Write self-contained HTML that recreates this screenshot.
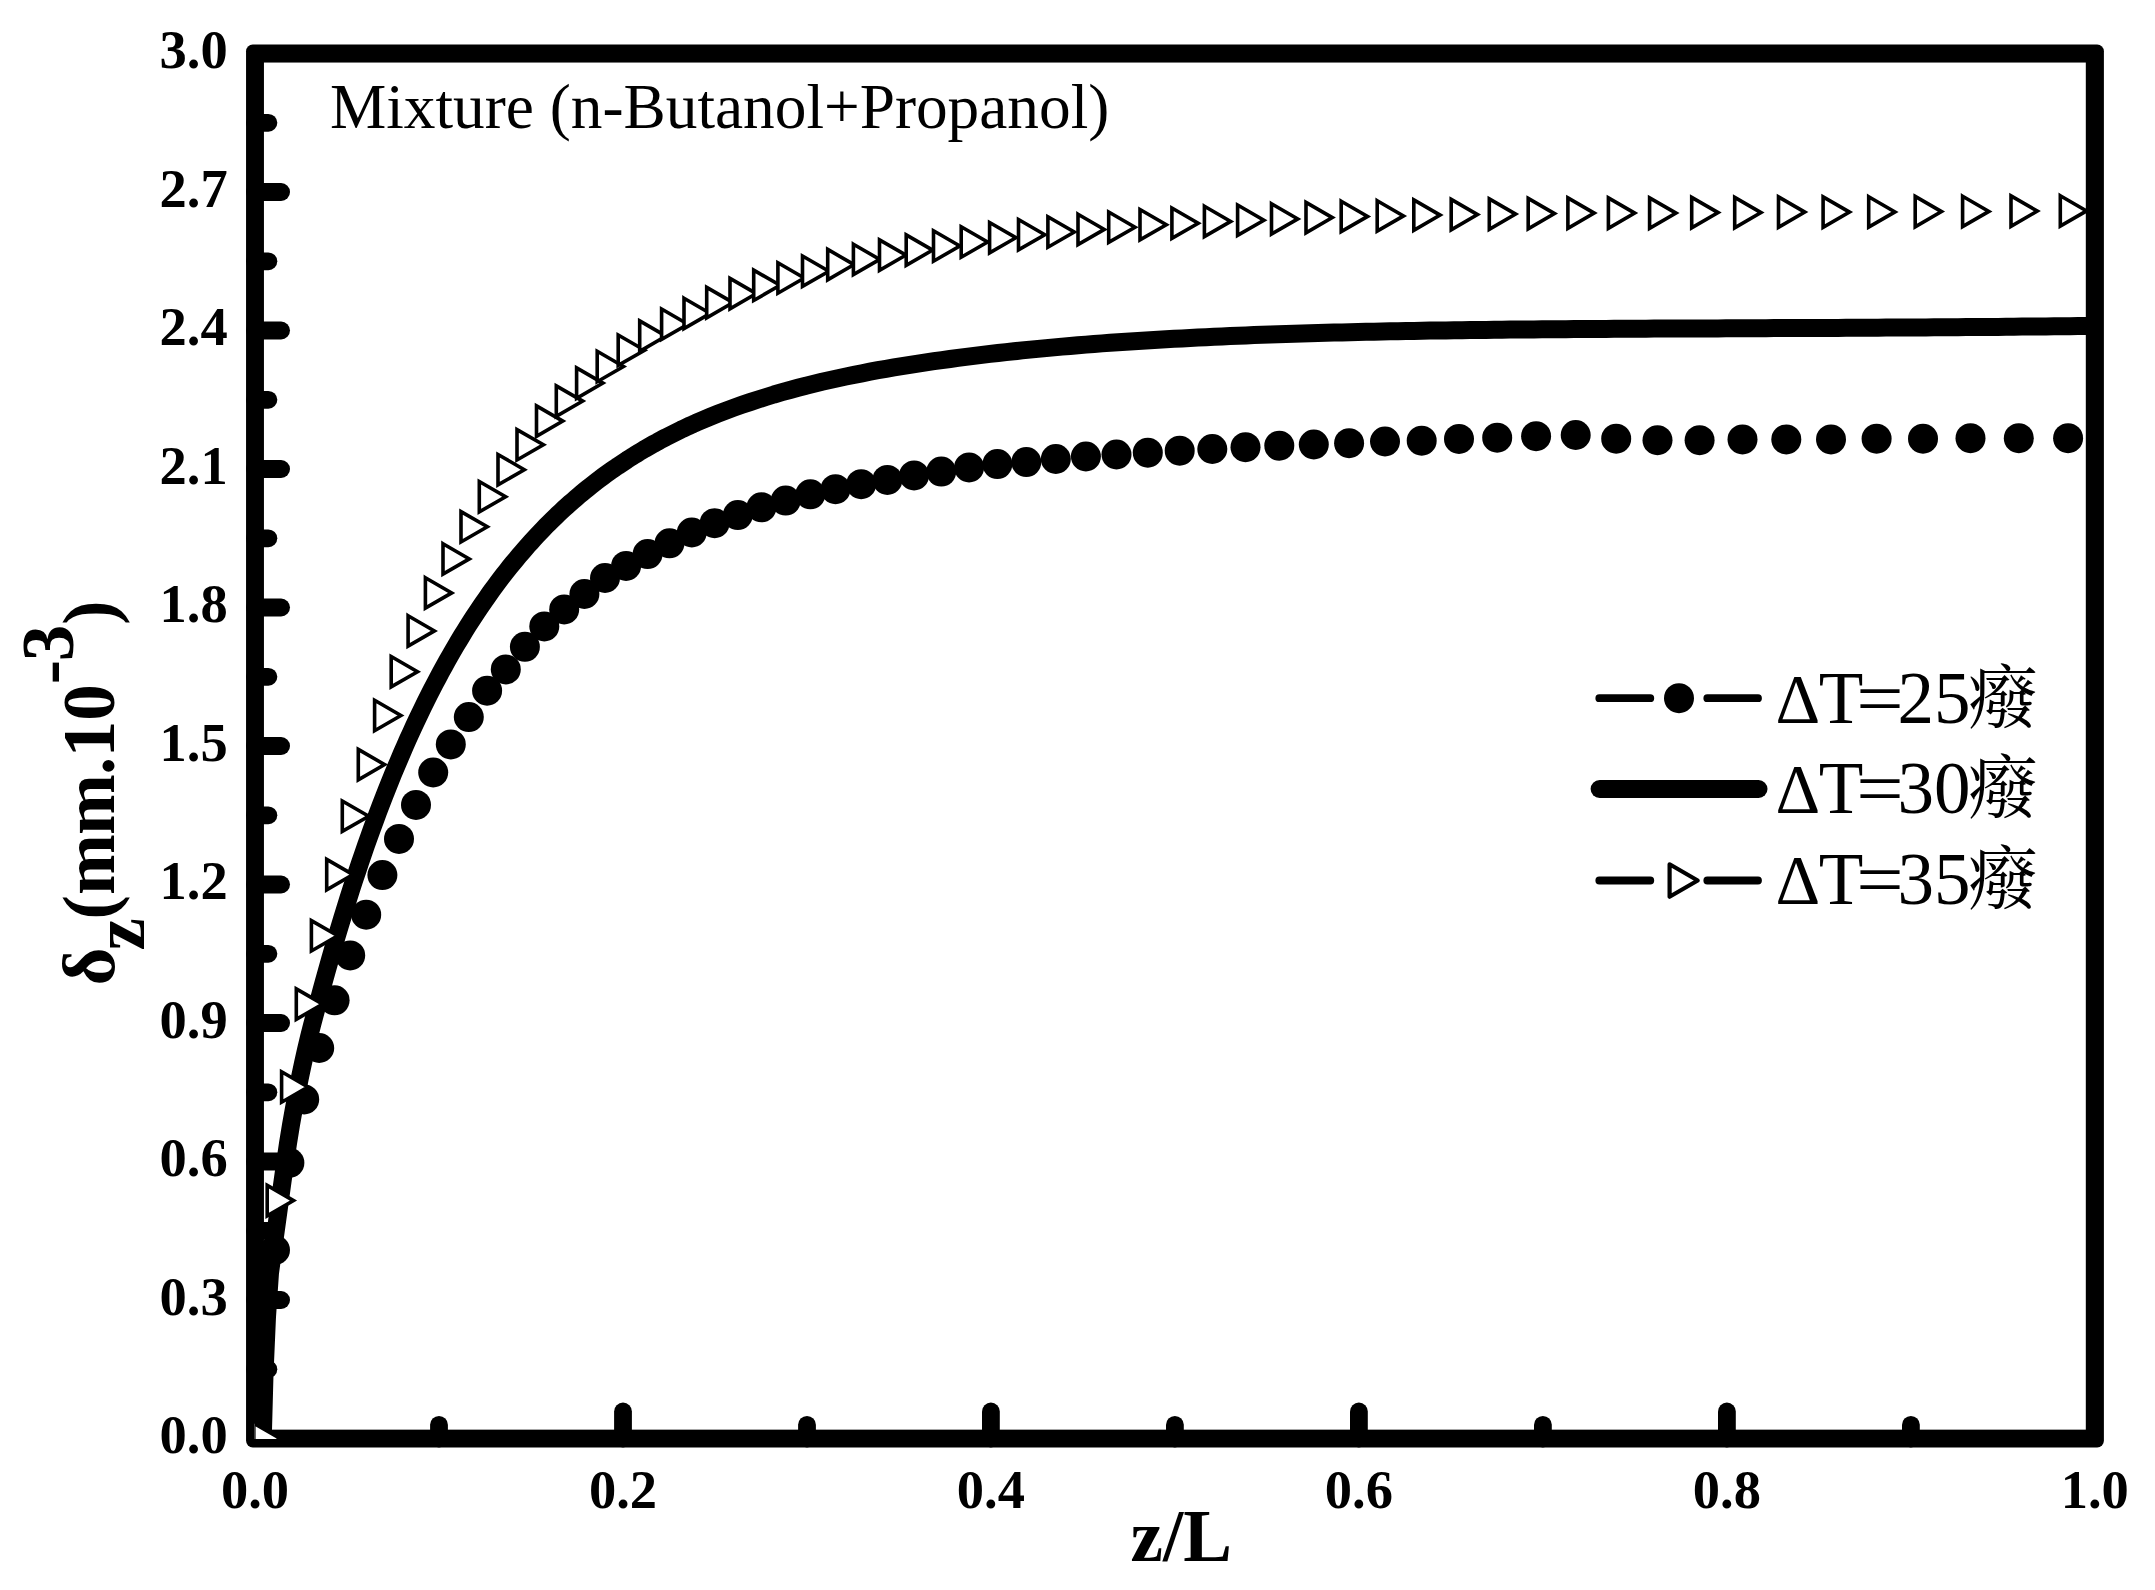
<!DOCTYPE html>
<html lang="en"><head><meta charset="utf-8"><title>Mixture (n-Butanol+Propanol) film thickness</title>
<style>html,body{margin:0;padding:0;background:#fff}svg{display:block}text{font-family:"Liberation Serif","Noto Serif CJK SC",serif;fill:#000}.b{font-weight:bold}</style></head><body>
<svg width="2155" height="1590" viewBox="0 0 2155 1590">
<rect width="2155" height="1590" fill="#fff"/>
<defs><clipPath id="c"><rect x="254.5" y="53.5" width="1840.4" height="1385.6"/></clipPath></defs>
<rect x="246.05" y="44.55" width="1857.85" height="1402.85" rx="6.7" fill="#000"/><rect x="263.95" y="62.55" width="1821.85" height="1367.1" fill="#fff"/>
<g stroke="#000" stroke-width="17.8" stroke-linecap="round">
<line x1="255.0" y1="1369.3" x2="268.4" y2="1369.3"/><line x1="255.0" y1="1300" x2="281.1" y2="1300"/><line x1="255.0" y1="1230.8" x2="268.4" y2="1230.8"/><line x1="255.0" y1="1161.5" x2="281.1" y2="1161.5"/><line x1="255.0" y1="1092.3" x2="268.4" y2="1092.3"/><line x1="255.0" y1="1023" x2="281.1" y2="1023"/><line x1="255.0" y1="953.8" x2="268.4" y2="953.8"/><line x1="255.0" y1="884.5" x2="281.1" y2="884.5"/><line x1="255.0" y1="815.3" x2="268.4" y2="815.3"/><line x1="255.0" y1="746" x2="281.1" y2="746"/><line x1="255.0" y1="676.8" x2="268.4" y2="676.8"/><line x1="255.0" y1="607.5" x2="281.1" y2="607.5"/><line x1="255.0" y1="538.3" x2="268.4" y2="538.3"/><line x1="255.0" y1="469" x2="281.1" y2="469"/><line x1="255.0" y1="399.8" x2="268.4" y2="399.8"/><line x1="255.0" y1="330.5" x2="281.1" y2="330.5"/><line x1="255.0" y1="261.3" x2="268.4" y2="261.3"/><line x1="255.0" y1="192" x2="281.1" y2="192"/><line x1="255.0" y1="122.8" x2="268.4" y2="122.8"/><line x1="439" y1="1438.5" x2="439" y2="1424.8"/><line x1="623" y1="1438.5" x2="623" y2="1411.5"/><line x1="807" y1="1438.5" x2="807" y2="1424.8"/><line x1="990.9" y1="1438.5" x2="990.9" y2="1411.5"/><line x1="1174.9" y1="1438.5" x2="1174.9" y2="1424.8"/><line x1="1358.9" y1="1438.5" x2="1358.9" y2="1411.5"/><line x1="1542.9" y1="1438.5" x2="1542.9" y2="1424.8"/><line x1="1726.9" y1="1438.5" x2="1726.9" y2="1411.5"/><line x1="1910.9" y1="1438.5" x2="1910.9" y2="1424.8"/>
</g>
<g class="b" font-size="54.5">
<text x="227.7" y="1453.4" text-anchor="end">0.0</text><text x="227.7" y="1314.9" text-anchor="end">0.3</text><text x="227.7" y="1176.4" text-anchor="end">0.6</text><text x="227.7" y="1037.9" text-anchor="end">0.9</text><text x="227.7" y="899.4" text-anchor="end">1.2</text><text x="227.7" y="760.9" text-anchor="end">1.5</text><text x="227.7" y="622.4" text-anchor="end">1.8</text><text x="227.7" y="483.9" text-anchor="end">2.1</text><text x="227.7" y="345.4" text-anchor="end">2.4</text><text x="227.7" y="206.9" text-anchor="end">2.7</text><text x="227.7" y="68.4" text-anchor="end">3.0</text><text x="255" y="1508" text-anchor="middle">0.0</text><text x="623" y="1508" text-anchor="middle">0.2</text><text x="990.9" y="1508" text-anchor="middle">0.4</text><text x="1358.9" y="1508" text-anchor="middle">0.6</text><text x="1726.9" y="1508" text-anchor="middle">0.8</text><text x="2094.8" y="1508" text-anchor="middle">1.0</text>
</g>
<text class="b" font-size="73" x="1181.2" y="1561.2" text-anchor="middle">z/L</text>
<g transform="translate(114.1 0) rotate(-90)"><text class="b" font-size="73" x="-985.4" y="0" dx="0 -2.9 -1.5 0.3 -1 -0.8 -0.5 0 0 -1.3 0" dy="0 29.5 -29.5 0 0 0 0 0 -41 0 41">δz(mm.10-3)</text></g>
<text font-size="63.3" x="330" y="127.5">Mixture (n-Butanol+Propanol)</text>
<g clip-path="url(#c)">
<g fill="#000"><circle cx="262.1" cy="1297" r="15"/><circle cx="275" cy="1250" r="15"/><circle cx="289.4" cy="1162.8" r="15"/><circle cx="304.2" cy="1099.4" r="15"/><circle cx="319.2" cy="1048" r="15"/><circle cx="334.6" cy="1000.3" r="15"/><circle cx="350.2" cy="955.4" r="15"/><circle cx="366.2" cy="914.7" r="15"/><circle cx="382.4" cy="875.1" r="15"/><circle cx="399" cy="838.9" r="15"/><circle cx="416" cy="804.9" r="15"/><circle cx="433.2" cy="772.5" r="15"/><circle cx="450.8" cy="744.4" r="15"/><circle cx="468.8" cy="717.1" r="15"/><circle cx="487.1" cy="690.7" r="15"/><circle cx="505.8" cy="669.4" r="15"/><circle cx="524.9" cy="646.8" r="15"/><circle cx="544.3" cy="626.4" r="15"/><circle cx="564.2" cy="609.4" r="15"/><circle cx="584.4" cy="594" r="15"/><circle cx="605" cy="578" r="15"/><circle cx="626.1" cy="565.9" r="15"/><circle cx="647.6" cy="554.1" r="15"/><circle cx="669.5" cy="543.3" r="15"/><circle cx="691.8" cy="532.5" r="15"/><circle cx="714.6" cy="523.2" r="15"/><circle cx="737.8" cy="515.1" r="15"/><circle cx="761.5" cy="507.3" r="15"/><circle cx="785.7" cy="500.6" r="15"/><circle cx="810.4" cy="494.3" r="15"/><circle cx="835.5" cy="489.2" r="15"/><circle cx="861.2" cy="484.2" r="15"/><circle cx="887.4" cy="479.9" r="15"/><circle cx="914.1" cy="475.4" r="15"/><circle cx="941.3" cy="471.6" r="15"/><circle cx="969.1" cy="467.4" r="15"/><circle cx="997.4" cy="464.1" r="15"/><circle cx="1026.3" cy="462.1" r="15"/><circle cx="1055.8" cy="459" r="15"/><circle cx="1085.9" cy="456.5" r="15"/><circle cx="1116.5" cy="454.5" r="15"/><circle cx="1147.8" cy="452.7" r="15"/><circle cx="1179.7" cy="450.7" r="15"/><circle cx="1212.3" cy="449" r="15"/><circle cx="1245.5" cy="447.2" r="15"/><circle cx="1279.3" cy="445.7" r="15"/><circle cx="1313.8" cy="444.5" r="15"/><circle cx="1349.1" cy="443.2" r="15"/><circle cx="1385" cy="441.5" r="15"/><circle cx="1421.7" cy="440.7" r="15"/><circle cx="1459" cy="438.9" r="15"/><circle cx="1497.2" cy="437.7" r="15"/><circle cx="1536.1" cy="436.2" r="15"/><circle cx="1575.7" cy="435" r="15"/><circle cx="1616.2" cy="438.7" r="15"/><circle cx="1657.5" cy="440.2" r="15"/><circle cx="1699.6" cy="440.2" r="15"/><circle cx="1742.5" cy="439.4" r="15"/><circle cx="1786.3" cy="439.4" r="15"/><circle cx="1831" cy="439.4" r="15"/><circle cx="1876.6" cy="438.7" r="15"/><circle cx="1923" cy="438.7" r="15"/><circle cx="1970.5" cy="438.2" r="15"/><circle cx="2018.8" cy="438.2" r="15"/><circle cx="2068.1" cy="438.2" r="15"/></g>
<polyline fill="none" stroke="#000" stroke-width="18" stroke-linejoin="round" stroke-linecap="round" points="262.5,1438 263,1430 264.5,1374.6 267,1316.8 270,1273 273,1250.8 276,1229 279,1207.2 282,1185.3 285,1163.8 288,1143.4 291,1124.9 294,1108 297,1092.1 300,1077.2 303,1063.1 306,1049.7 309,1037.1 312,1025.3 315,1014 318,1003 321,991.9 324,980.9 327,970.1 330,959.5 333,949 336,938.8 339,928.7 342,918.8 345,909.1 348,899.5 351,890.1 354,880.8 357,871.8 360,862.8 363,854.1 366,845.4 369,837 372,828.6 375,820.5 378,812.4 381,804.5 384,796.7 387,789.1 390,781.6 393,774.2 396,767 399,759.9 402,752.9 405,746 408,739.2 411,732.6 414,726 417,719.6 420,713.3 423,707.1 426,701 429,695 432,689.1 435,683.4 438,677.7 441,672.1 444,666.6 447,661.2 450,655.9 453,650.6 456,645.5 459,640.5 462,635.5 465,630.6 468,625.8 471,621.1 474,616.5 477,612 480,607.5 483,603.1 486,598.8 489,594.5 492,590.3 495,586.2 498,582.2 501,578.2 504,574.3 507,570.5 510,566.7 513,563 516,559.4 519,555.8 522,552.3 525,548.8 528,545.4 531,542.1 534,538.8 537,535.5 540,532.3 543,529.2 546,526.1 549,523.1 552,520.1 555,517.2 558,514.3 561,511.5 564,508.7 567,506 570,503.3 573,500.7 576,498.1 579,495.5 582,493 585,490.5 588,488.1 591,485.7 594,483.4 597,481 600,478.8 603,476.5 606,474.3 609,472.2 612,470 615,468 618,465.9 621,463.9 624,461.9 627,459.9 630,458 633,456.1 636,454.3 639,452.4 642,450.6 645,448.8 648,447.1 651,445.4 654,443.7 657,442.1 660,440.4 663,438.8 666,437.2 669,435.7 672,434.2 675,432.7 678,431.2 681,429.7 684,428.3 687,426.9 690,425.5 693,424.2 696,422.8 699,421.5 702,420.2 710,416.9 718,413.7 726,410.6 734,407.6 742,404.8 750,402.1 758,399.5 766,397 774,394.5 782,392.2 790,390 798,387.8 806,385.7 814,383.8 822,381.8 830,380 838,378.2 846,376.5 854,374.9 862,373.3 870,371.7 878,370.2 886,368.8 894,367.4 902,366.1 910,364.8 918,363.6 926,362.4 934,361.2 942,360.1 950,359 958,357.9 966,356.9 974,355.9 982,354.9 990,353.9 998,353 1006,352.1 1014,351.3 1022,350.4 1030,349.6 1038,348.9 1046,348.1 1054,347.4 1062,346.6 1070,346 1078,345.3 1086,344.6 1094,344 1102,343.4 1110,342.8 1118,342.3 1126,341.7 1134,341.2 1142,340.7 1150,340.2 1158,339.7 1166,339.2 1174,338.8 1182,338.4 1190,338 1198,337.6 1206,337.2 1214,336.8 1222,336.4 1230,336.1 1238,335.8 1246,335.4 1254,335.1 1262,334.8 1270,334.5 1278,334.3 1286,334 1294,333.7 1302,333.5 1310,333.2 1318,333 1326,332.8 1334,332.6 1342,332.4 1350,332.2 1358,332 1366,331.8 1374,331.7 1382,331.5 1390,331.3 1398,331.2 1406,331 1414,330.9 1422,330.8 1430,330.6 1438,330.5 1446,330.4 1454,330.3 1462,330.2 1470,330.1 1478,330 1486,329.9 1494,329.8 1502,329.7 1510,329.6 1518,329.6 1526,329.5 1534,329.4 1542,329.3 1550,329.3 1558,329.2 1566,329.2 1574,329.1 1582,329 1590,329 1598,328.9 1606,328.9 1614,328.8 1622,328.8 1630,328.8 1638,328.7 1646,328.7 1654,328.6 1662,328.6 1670,328.6 1678,328.5 1686,328.5 1694,328.5 1702,328.4 1710,328.4 1718,328.4 1726,328.3 1734,328.3 1742,328.3 1750,328.2 1758,328.2 1766,328.2 1774,328.1 1782,328.1 1790,328.1 1798,328 1806,328 1814,328 1822,327.9 1830,327.9 1838,327.9 1846,327.8 1854,327.8 1862,327.7 1870,327.7 1878,327.7 1886,327.6 1894,327.6 1902,327.5 1910,327.5 1918,327.4 1926,327.4 1934,327.3 1942,327.3 1950,327.2 1958,327.2 1966,327.1 1974,327 1982,327 1990,326.9 1998,326.9 2006,326.8 2014,326.7 2022,326.6 2030,326.6 2038,326.5 2046,326.4 2054,326.3 2062,326.3 2070,326.2 2078,326.1 2086,326 2094,325.9 2095,325.9"/>
<g fill="#fff" stroke="#000" stroke-width="3.6" stroke-linejoin="miter"><path d="M253.8 1423.3L280.2 1438.5L253.8 1453.7Z"/><path d="M267.2 1185.4L293.5 1200.6L267.2 1215.8Z"/><path d="M281.6 1071.8L307.9 1087L281.6 1102.2Z"/><path d="M296.3 988.9L322.7 1004.1L296.3 1019.3Z"/><path d="M311.4 920.6L337.7 935.8L311.4 951Z"/><path d="M326.7 859.4L353 874.6L326.7 889.8Z"/><path d="M342.3 801L368.7 816.2L342.3 831.4Z"/><path d="M358.3 749.4L384.6 764.6L358.3 779.8Z"/><path d="M374.6 700.3L400.9 715.5L374.6 730.7Z"/><path d="M391.2 656.5L417.5 671.7L391.2 686.9Z"/><path d="M408.1 615.7L434.4 630.9L408.1 646.1Z"/><path d="M425.4 577.7L451.7 592.9L425.4 608.1Z"/><path d="M443 543.7L469.3 558.9L443 574.1Z"/><path d="M461 511.6L487.3 526.8L461 542Z"/><path d="M479.3 481.5L505.6 496.7L479.3 511.9Z"/><path d="M498 454.5L524.3 469.7L498 484.9Z"/><path d="M517 429.6L543.4 444.8L517 460Z"/><path d="M536.5 405.9L562.8 421.1L536.5 436.3Z"/><path d="M556.3 385.9L582.7 401.1L556.3 416.3Z"/><path d="M576.6 367.9L602.9 383.1L576.6 398.3Z"/><path d="M597.2 351.3L623.5 366.5L597.2 381.7Z"/><path d="M618.2 335L644.6 350.2L618.2 365.4Z"/><path d="M639.7 320.9L666 336.1L639.7 351.3Z"/><path d="M661.6 309L687.9 324.2L661.6 339.4Z"/><path d="M684 298.2L710.3 313.4L684 328.6Z"/><path d="M706.7 287.4L733.1 302.6L706.7 317.8Z"/><path d="M730 278.4L756.3 293.6L730 308.8Z"/><path d="M753.7 270.1L780 285.3L753.7 300.5Z"/><path d="M777.9 262.8L804.2 278L777.9 293.2Z"/><path d="M802.5 256L828.9 271.2L802.5 286.4Z"/><path d="M827.7 249.4L854 264.6L827.7 279.8Z"/><path d="M853.4 244.2L879.7 259.4L853.4 274.6Z"/><path d="M879.5 239.9L905.9 255.1L879.5 270.3Z"/><path d="M906.2 234.9L932.6 250.1L906.2 265.3Z"/><path d="M933.5 230.8L959.8 246L933.5 261.2Z"/><path d="M961.2 226.8L987.6 242L961.2 257.2Z"/><path d="M989.6 222.5L1015.9 237.7L989.6 252.9Z"/><path d="M1018.5 219.5L1044.8 234.7L1018.5 249.9Z"/><path d="M1047.9 216.8L1074.3 232L1047.9 247.2Z"/><path d="M1078 214.2L1104.3 229.4L1078 244.6Z"/><path d="M1108.7 212L1135 227.2L1108.7 242.4Z"/><path d="M1140 209.5L1166.3 224.7L1140 239.9Z"/><path d="M1171.9 208L1198.2 223.2L1171.9 238.4Z"/><path d="M1204.4 206.2L1230.7 221.4L1204.4 236.6Z"/><path d="M1237.6 205L1263.9 220.2L1237.6 235.4Z"/><path d="M1271.5 203.7L1297.8 218.9L1271.5 234.1Z"/><path d="M1306 202.4L1332.3 217.6L1306 232.8Z"/><path d="M1341.2 201.2L1367.6 216.4L1341.2 231.6Z"/><path d="M1377.2 200.7L1403.5 215.9L1377.2 231.1Z"/><path d="M1413.8 199.9L1440.1 215.1L1413.8 230.3Z"/><path d="M1451.2 199.4L1477.5 214.6L1451.2 229.8Z"/><path d="M1489.3 198.9L1515.6 214.1L1489.3 229.3Z"/><path d="M1528.2 198.4L1554.5 213.6L1528.2 228.8Z"/><path d="M1567.9 197.9L1594.2 213.1L1567.9 228.3Z"/><path d="M1608.4 197.9L1634.7 213.1L1608.4 228.3Z"/><path d="M1649.6 197.9L1676 213.1L1649.6 228.3Z"/><path d="M1691.7 197.4L1718.1 212.6L1691.7 227.8Z"/><path d="M1734.7 197.4L1761 212.6L1734.7 227.8Z"/><path d="M1778.5 196.9L1804.8 212.1L1778.5 227.3Z"/><path d="M1823.1 196.9L1849.5 212.1L1823.1 227.3Z"/><path d="M1868.7 196.7L1895 211.9L1868.7 227.1Z"/><path d="M1915.2 196.4L1941.5 211.6L1915.2 226.8Z"/><path d="M1962.6 196.2L1988.9 211.4L1962.6 226.6Z"/><path d="M2011 195.9L2037.3 211.1L2011 226.3Z"/><path d="M2060.3 195.7L2086.6 210.9L2060.3 226.1Z"/></g>
</g>
<g stroke="#000" stroke-linecap="round" fill="none"><path d="M1599.3 698.2H1650.3M1707.3 698.2H1758" stroke-width="7.8"/><path d="M1599.3 880.5H1650.3M1707.3 880.5H1758" stroke-width="7.8"/><path d="M1599.6 789H1758.5" stroke-width="18"/></g>
<circle cx="1679" cy="698.2" r="15"/><path d="M1669.6 864.3L1697.7 880.5L1669.6 896.7Z" fill="#fff" stroke="#000" stroke-width="4.2" stroke-linejoin="round"/>
<g font-size="73"><text y="722.6"><tspan x="1775.6" font-size="69.5">Δ</tspan><tspan x="1818.7">T</tspan><tspan x="1856.2" textLength="47.4" lengthAdjust="spacingAndGlyphs">=</tspan><tspan x="1897.5">25</tspan><tspan x="1967.8" font-size="70">癈</tspan></text><text y="813.4"><tspan x="1775.6" font-size="69.5">Δ</tspan><tspan x="1818.7">T</tspan><tspan x="1856.2" textLength="47.4" lengthAdjust="spacingAndGlyphs">=</tspan><tspan x="1897.5">30</tspan><tspan x="1967.8" font-size="70">癈</tspan></text><text y="904.4"><tspan x="1775.6" font-size="69.5">Δ</tspan><tspan x="1818.7">T</tspan><tspan x="1856.2" textLength="47.4" lengthAdjust="spacingAndGlyphs">=</tspan><tspan x="1897.5">35</tspan><tspan x="1967.8" font-size="70">癈</tspan></text></g>
</svg>
</body></html>
